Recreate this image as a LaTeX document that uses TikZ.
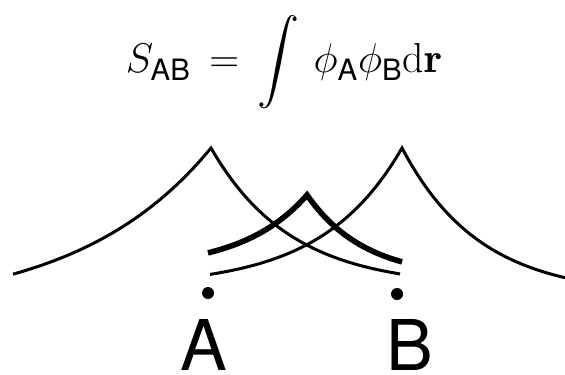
\documentclass[tikz,border=0pt]{standalone}
\usepackage{amsmath,amssymb}
\usepackage{fontspec}
\newfontfamily\heros{TeX Gyre Heros}
\newcommand{\nuc}[1]{\text{\heros #1}}

\begin{document}
\begin{tikzpicture}[x=0.5pt,y=-0.5pt,
	orbital/.style={line width=1.5pt},
	overlap/.style={line width=2.8pt},
	every node/.style={inner sep=0pt}]
	\useasboundingbox (0,0) rectangle (565,374);
	\node[anchor=base, font=\fontsize{21}{25}\selectfont] (formula) at (284,73) {$\displaystyle S_{\nuc{AB}} \,=\, \int \,\phi_{\nuc{A}}\phi_{\nuc{B}}\mathrm{d}\mathbf{r}$};
	% phi_A and phi_B
	\draw[orbital] plot[domain=13:211,samples=60] (\x,{312-164*exp(-(211-\x)/135)}) -- plot[domain=212:400,samples=60] (\x,{287-139*exp(-(\x-211)/80)});
	\draw[orbital] plot[domain=210:402,samples=60] (\x,{287-139*exp(-(402-\x)/80)}) -- plot[domain=403:565,samples=60] (\x,{296-148*exp(-(\x-402)/78)});
	% product
	\draw[overlap] plot[domain=208:307,samples=40] (\x,{269-74*exp(-(307-\x)/65)}) -- plot[domain=308:402,samples=40] (\x,{278-83*exp(-(\x-307)/58)});
	\coordinate (nucA) at (208,293);
	\coordinate (nucB) at (397,294);
	\fill (nucA) circle (3pt) (nucB) circle (3pt);
	\node[anchor=base, font=\fontsize{35}{40}\heros] (labA) at (204,370) {A};
	\node[anchor=base, font=\fontsize{35}{40}\heros] (labB) at (410,370) {B};
\end{tikzpicture}
\end{document}
